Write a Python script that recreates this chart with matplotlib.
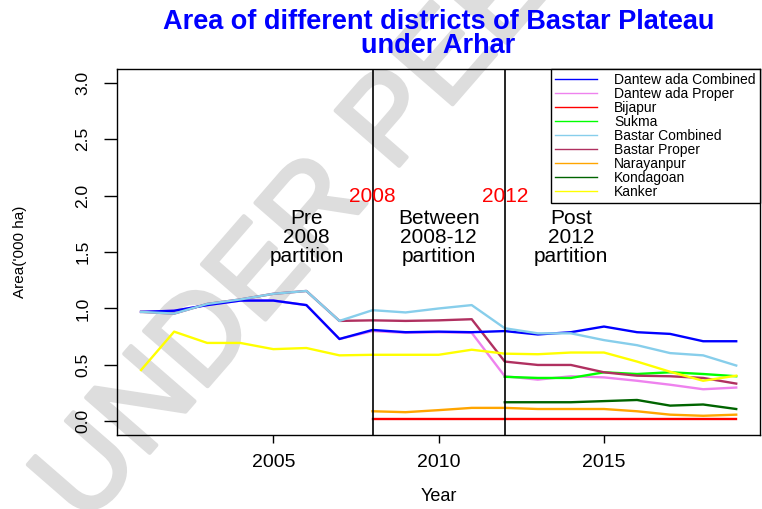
import numpy as np
import matplotlib
matplotlib.use("Agg")
import matplotlib.pyplot as plt
import matplotlib.patheffects as pe

plt.rcParams['font.family'] = ['Liberation Sans', 'DejaVu Sans']

nan = np.nan
years = list(range(2001, 2020))

# Area ('000 ha)
dant_comb = [0.97, 0.98, 1.03, 1.07, 1.07, 1.03, 0.73, 0.81, 0.79, 0.795,
             0.79, 0.80, 0.77, 0.79, 0.84, 0.79, 0.775, 0.71, 0.71]
dant_prop = [0.97, 0.98, 1.03, 1.07, 1.07, 1.03, 0.73, 0.80, 0.785, 0.79,
             0.785, 0.40, 0.37, 0.40, 0.39, 0.36, 0.325, 0.285, 0.30]
bijapur = [nan] * 7 + [0.02] * 12
sukma = [nan] * 11 + [0.395, 0.385, 0.385, 0.435, 0.42, 0.435, 0.42, 0.40]
bastar_comb = [0.97, 0.955, 1.04, 1.08, 1.13, 1.155, 0.89, 0.985, 0.965, 1.0,
               1.03, 0.825, 0.78, 0.78, 0.72, 0.675, 0.605, 0.585, 0.495]
bastar_prop = [0.97, 0.955, 1.04, 1.08, 1.13, 1.155, 0.89, 0.895, 0.89, 0.895,
               0.905, 0.53, 0.50, 0.50, 0.435, 0.405, 0.40, 0.385, 0.335]
narayanpur = [nan] * 7 + [0.09, 0.082, 0.10, 0.12, 0.12, 0.11, 0.11, 0.11,
                          0.09, 0.06, 0.05, 0.06]
kondagaon = [nan] * 11 + [0.17, 0.17, 0.17, 0.18, 0.19, 0.14, 0.15, 0.11]
kanker = [0.455, 0.795, 0.695, 0.695, 0.64, 0.65, 0.585, 0.59, 0.59, 0.59,
          0.635, 0.60, 0.595, 0.61, 0.61, 0.53, 0.44, 0.36, 0.405]

names = ["Dantew ada Combined", "Dantew ada Proper", "Bijapur", "Sukma",
         "Bastar Combined", "Bastar Proper", "Narayanpur", "Kondagoan", "Kanker"]
series = [dant_comb, dant_prop, bijapur, sukma, bastar_comb, bastar_prop,
          narayanpur, kondagaon, kanker]
colors = ["#0000FF", "#EE82EE", "#FF0000", "#00FF00", "#87CEEB", "#B03060",
          "#FFA500", "#006400", "#FFFF00"]
# proper series sit under the combined ones where they coincide
zorders = [4, 3, 3, 3, 4, 3, 3, 3, 3]

partition_years = [2008, 2012]
period_labels = ["Pre\n2008\npartition", "Between\n2008-12\npartition",
                 "Post\n2012\npartition"]
period_x = [2006, 2010, 2014]

fig = plt.figure(figsize=(7.62, 5.09), dpi=100)
ax = fig.add_axes([0.1539, 0.1454, 0.8435, 0.719])
ax.patch.set_alpha(0)

# watermark behind everything (runs off the canvas like the original)
fig.text(0.425, 0.60, "UNDER PEER", fontsize=88, color="#dddddd",
         rotation=49, ha="center", va="center", zorder=-5,
         path_effects=[pe.Stroke(linewidth=3, foreground="#dddddd",
                                 joinstyle="round", capstyle="round"),
                       pe.Normal()])

handles = []
for vals, name, c, z in zip(series, names, colors, zorders):
    h, = ax.plot(years, vals, color=c, lw=1.7, label=name, zorder=z)
    handles.append(h)

for yr in partition_years:
    ax.axvline(yr, color="black", lw=1.2, zorder=5)
    ax.text(yr, 1.99, str(yr), color="red", fontsize=15, ha="center",
            va="center", zorder=6)

for x, lab in zip(period_x, period_labels):
    ax.text(x, 1.63, lab, fontsize=15, ha="center", va="center",
            linespacing=0.98, zorder=6)

ax.set_xlim(2000.28, 2019.72)
ax.set_ylim(-0.12, 3.12)
ax.set_xticks([2005, 2010, 2015])
ax.set_yticks(np.arange(0, 3.01, 0.5))
ax.set_yticklabels([f"{v:.1f}" for v in np.arange(0, 3.01, 0.5)],
                   rotation=90, va="center")
ax.tick_params(axis="x", length=6, width=1, labelsize=14, pad=8)
ax.tick_params(axis="y", length=9.5, width=1, labelsize=12.5, pad=10)
for s in ax.spines.values():
    s.set_linewidth(1)
    s.set_color("black")

fig.text(0.5755, 0.024, "Year", fontsize=13, ha="center", va="center")
fig.text(0.026, 0.505, "Area('000 ha)", fontsize=11, rotation=90,
         ha="center", va="center")
fig.text(0.5755, 0.933,
         "Area of different districts of Bastar Plateau\nunder Arhar",
         fontsize=19.5, fontweight="bold", color="#0000FF", ha="center",
         va="center", linespacing=0.9)

leg = ax.legend(handles=handles, loc="upper right", bbox_to_anchor=(1.0, 1.0),
                fontsize=10, frameon=True, fancybox=False, edgecolor="black",
                framealpha=1, borderaxespad=0, borderpad=0.3,
                labelspacing=0.0, handlelength=3.0, handletextpad=1.25)
leg.get_frame().set_linewidth(1)
for line in leg.get_lines():
    line.set_linewidth(1.0)
leg.set_zorder(10)

fig.savefig("out.png", dpi=100)
